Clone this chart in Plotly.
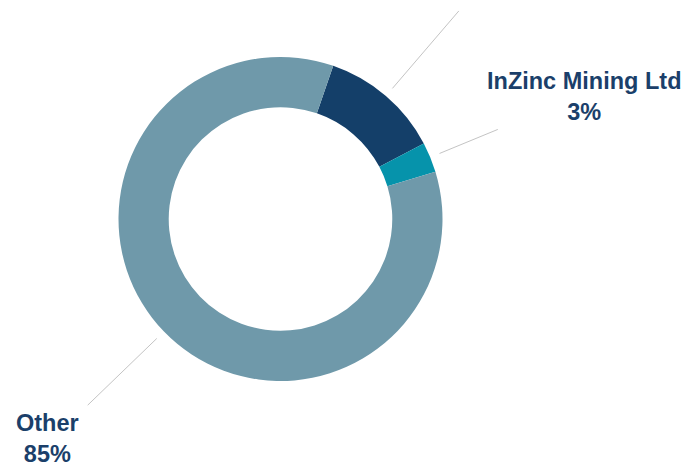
import math
import plotly.graph_objects as go

# ---- data ----
labels = ["Company A", "InZinc Mining Ltd", "Other"]
values = [12, 3, 85]
pct_labels = ["12%", "3%", "85%"]
show_label = [False, True, True]

# ---- style ----
colors = ["#143f69", "#0693ab", "#6f99aa"]
text_color = "#1b3f6a"
W, H = 688, 469
cx, cy, R = 280.5, 219, 162
hole = 0.69
rotation = 19
leader_r0 = 172
leader_r1 = [274, 235, 268]
label_off = [(0, -40), (86, -33), (-40, 33)]

fig = go.Figure()
fig.add_trace(go.Pie(
    labels=labels, values=values, sort=False, direction="clockwise",
    rotation=rotation, hole=hole, textinfo="none",
    marker=dict(colors=colors, line=dict(width=0)),
    domain=dict(x=[(cx - R) / W, (cx + R) / W], y=[(H - cy - R) / H, (H - cy + R) / H]),
    showlegend=False, hoverinfo="label+percent",
))

total = sum(values)
cum = 0
shapes, annotations = [], []
for i, v in enumerate(values):
    mid = math.radians(rotation + (cum + v / 2) / total * 360)
    cum += v
    x0 = cx + leader_r0 * math.sin(mid); y0 = cy - leader_r0 * math.cos(mid)
    x1 = cx + leader_r1[i] * math.sin(mid); y1 = cy - leader_r1[i] * math.cos(mid)
    shapes.append(dict(type="line", xref="paper", yref="paper",
                       x0=x0 / W, y0=1 - y0 / H, x1=x1 / W, y1=1 - y1 / H,
                       line=dict(color="#c4c4c4", width=1)))
    if show_label[i]:
        lx = x1 + label_off[i][0]; ly = y1 + label_off[i][1]
        annotations.append(dict(
            xref="paper", yref="paper", x=lx / W, y=1 - ly / H,
            xanchor="center", yanchor="middle", showarrow=False,
            text=f"<b>{labels[i]}<br>{pct_labels[i]}</b>",
            font=dict(family="Liberation Sans, Arial, sans-serif", size=23.5, color=text_color),
            align="center"))

fig.update_layout(width=W, height=H, margin=dict(l=0, r=0, t=0, b=0),
                  paper_bgcolor="white", plot_bgcolor="white",
                  shapes=shapes, annotations=annotations)
fig.write_html("out.html", config={"displayModeBar": False},
               post_script="document.body.style.margin='0';document.body.style.overflow='hidden';")
